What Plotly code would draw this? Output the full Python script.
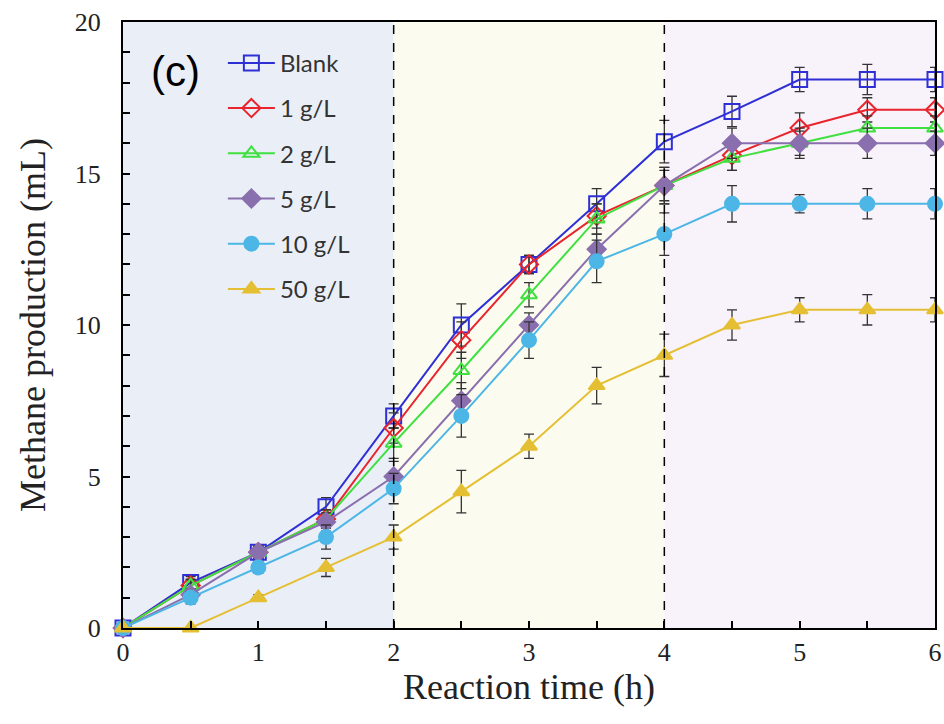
import plotly.graph_objects as go

time_h = [0, 0.5, 1, 1.5, 2, 2.5, 3, 3.5, 4, 4.5, 5, 5.5, 6]

blank = [0, 1.5, 2.5, 4.0, 7.0, 10.0, 12.0, 14.0, 16.05, 17.05, 18.1, 18.1, 18.1]
g1 = [0, 1.4, 2.5, 3.6, 6.6, 9.5, 12.0, 13.6, 14.6, 15.6, 16.5, 17.1, 17.1]
g2 = [0, 1.4, 2.5, 3.6, 6.1, 8.5, 11.0, 13.5, 14.6, 15.5, 16.0, 16.5, 16.5]
g5 = [0, 1.1, 2.5, 3.5, 5.0, 7.5, 10.0, 12.5, 14.6, 16.0, 16.0, 16.0, 16.0]
g10 = [0, 1.0, 2.0, 3.0, 4.6, 7.0, 9.5, 12.1, 13.0, 14.0, 14.0, 14.0, 14.0]
g50 = [0, 0, 1.0, 2.0, 3.0, 4.5, 6.0, 8.0, 9.0, 10.0, 10.5, 10.5, 10.5]

err_blank = [0, 0.2, 0.2, 0.3, 0.4, 0.7, 0.3, 0.5, 0.7, 0.5, 0.4, 0.5, 0.4]
err_g1 = [0, 0.2, 0.2, 0.3, 0.5, 0.6, 0.3, 0.4, 0.6, 0.5, 0.5, 0.4, 0.4]
err_g2 = [0, 0.2, 0.2, 0.3, 0.5, 0.6, 0.4, 0.5, 0.5, 0.4, 0.4, 0.4, 0.4]
err_g5 = [0, 0.2, 0.2, 0.3, 0.5, 0.6, 0.4, 0.5, 0.6, 0.5, 0.5, 0.5, 0.4]
err_g10 = [0, 0.2, 0.2, 0.4, 0.5, 0.7, 0.6, 0.7, 0.7, 0.6, 0.3, 0.5, 0.5]
err_g50 = [0, 0, 0.1, 0.3, 0.4, 0.7, 0.4, 0.6, 0.7, 0.5, 0.4, 0.5, 0.4]

series_names = ["Blank", "1 g/L", "2 g/L", "5 g/L", "10 g/L", "50 g/L"]
series_vals = [blank, g1, g2, g5, g10, g50]
series_errs = [err_blank, err_g1, err_g2, err_g5, err_g10, err_g50]
colors = ["#2f2fd6", "#e8242c", "#3fe03f", "#8a6fae", "#4cb6e6", "#e5bf33"]
symbols = ["square-open", "diamond-open", "triangle-up-open", "diamond", "circle", "triangle-up"]
sizes = [15, 14, 14, 14, 14, 14]

region_edges = [0, 2, 4, 6]
region_colors = ["#eaeff7", "#fbfcef", "#f8f2fa"]

fig = go.Figure()

for i, (nm, v, e) in enumerate(zip(series_names, series_vals, series_errs)):
    fig.add_trace(go.Scatter(
        x=time_h, y=v, name=nm, mode="lines+markers",
        legendgroup=f"g{i}",
        line=dict(color=colors[i], width=2),
        marker=dict(symbol=symbols[i], size=sizes[i], color=colors[i],
                    line=dict(color=colors[i], width=2)),
        error_y=dict(type="data", array=e, visible=True, color="#333333",
                     thickness=1.3, width=5),
        cliponaxis=False,
    ))

shapes = []
for j in range(3):
    shapes.append(dict(type="rect", xref="x", yref="paper",
                       x0=region_edges[j], x1=region_edges[j + 1], y0=0, y1=1,
                       fillcolor=region_colors[j], line=dict(width=0), layer="below"))
for xv in [2, 4]:
    shapes.append(dict(type="line", xref="x", yref="paper", x0=xv, x1=xv, y0=0, y1=1,
                       line=dict(color="black", width=1.5, dash="dash"), layer="above"))

serif = "Liberation Serif, Times New Roman, serif"

fig.update_layout(
    width=944, height=724,
    margin=dict(l=123, r=9, t=22, b=96),
    paper_bgcolor="white", plot_bgcolor="white",
    shapes=shapes,
    showlegend=True,
    legend=dict(x=0.123, y=0.969, xanchor="left", yanchor="top",
                bgcolor="rgba(0,0,0,0)", borderwidth=0,
                font=dict(family="Lato, Open Sans, sans-serif", size=24, color="#333333"),
                tracegroupgap=11, itemwidth=47),
    annotations=[dict(text="(c)", xref="paper", yref="paper", x=0.032, y=0.918,
                      xanchor="left", yanchor="middle", showarrow=False,
                      font=dict(family="Liberation Sans, Arial, sans-serif", size=42, color="black"))],
)

fig.update_xaxes(
    range=[0, 6], dtick=1, tick0=0, automargin=False,
    ticks="inside", ticklen=7, tickwidth=1.5, tickcolor="black",
    minor=dict(dtick=0.5, ticks="inside", ticklen=7, tickwidth=1.5, tickcolor="black"),
    showline=True, linecolor="black", linewidth=2, mirror=True,
    showgrid=False, zeroline=False, ticklabelstandoff=0,
    tickfont=dict(family=serif, size=26, color="#222222"),
    title=dict(text="Reaction time (h)", standoff=8,
               font=dict(family=serif, size=36, color="#222222")),
)
fig.update_yaxes(
    range=[0, 20], dtick=5, tick0=0, automargin=False,
    ticks="inside", ticklen=7, tickwidth=1.5, tickcolor="black",
    minor=dict(dtick=1, ticks="inside", ticklen=7, tickwidth=1.5, tickcolor="black"),
    showline=True, linecolor="black", linewidth=2, mirror=True,
    showgrid=False, zeroline=False, ticklabelstandoff=15,
    tickfont=dict(family=serif, size=26, color="#222222"),
    title=dict(text="Methane production (mL)", standoff=18,
               font=dict(family=serif, size=36, color="#222222")),
)

# remove the browser's default 8px page margin so the 944x724 figure fills the window
fig.write_html("out.html", config={"displayModeBar": False},
               post_script="document.body.style.margin='0px';")
